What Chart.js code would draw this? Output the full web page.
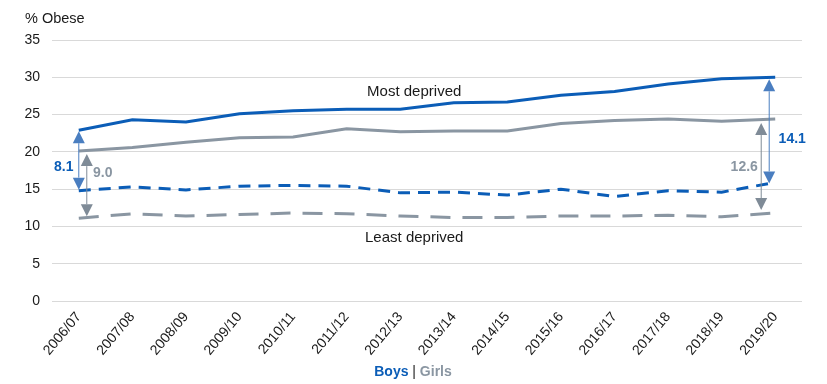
<!DOCTYPE html>
<html>
<head>
<meta charset="utf-8">
<script src="https://cdn.jsdelivr.net/npm/chart.js@4.4.1/dist/chart.umd.min.js"></script>
<style>
  html, body { margin: 0; padding: 0; background: #fff; }
  #wrap { width: 827px; height: 384px; }
</style>
</head>
<body>
<div id="wrap"><canvas id="chart" width="827" height="384"></canvas></div>
<script>
const years = ["2006/07", "2007/08", "2008/09", "2009/10", "2010/11", "2011/12", "2012/13",
  "2013/14", "2014/15", "2015/16", "2016/17", "2017/18", "2018/19", "2019/20"];

// % obese
const boysMost = [22.9, 24.3, 24.0, 25.1, 25.5, 25.7, 25.7, 26.6, 26.7, 27.6, 28.1, 29.1, 29.8, 30.0];
const boysLeast = [14.8, 15.3, 14.9, 15.4, 15.5, 15.4, 14.5, 14.6, 14.2, 15.0, 14.0, 14.8, 14.6, 15.9];
const girlsMost = [20.1, 20.6, 21.3, 21.9, 22.0, 23.1, 22.7, 22.8, 22.8, 23.8, 24.2, 24.4, 24.1, 24.4];
const girlsLeast = [11.1, 11.7, 11.4, 11.6, 11.8, 11.7, 11.4, 11.2, 11.2, 11.4, 11.4, 11.5, 11.3, 11.8];

const yTicks = [0, 5, 10, 15, 20, 25, 30, 35];

const blue = "#0B5DB7";
const grey = "#8A96A2";
const arrowBlue = "#4A7EC0";
const arrowGrey = "#7F8B97";
const font = "'Liberation Sans', Arial, sans-serif";

// draws a double headed arrow between two values at a given x
function drawArrow(ctx, px, yTop, yBot, color) {
  const head = 12, half = 6;
  ctx.save();
  ctx.strokeStyle = color;
  ctx.fillStyle = color;
  ctx.lineWidth = 1;
  ctx.beginPath();
  ctx.moveTo(px, yTop + head);
  ctx.lineTo(px, yBot - head);
  ctx.stroke();
  ctx.beginPath();
  ctx.moveTo(px, yTop);
  ctx.lineTo(px - half, yTop + head);
  ctx.lineTo(px + half, yTop + head);
  ctx.closePath();
  ctx.fill();
  ctx.beginPath();
  ctx.moveTo(px, yBot);
  ctx.lineTo(px - half, yBot - head);
  ctx.lineTo(px + half, yBot - head);
  ctx.closePath();
  ctx.fill();
  ctx.restore();
}

function text(ctx, str, px, py, color, weight, size, align) {
  ctx.save();
  ctx.fillStyle = color;
  ctx.font = weight + " " + size + "px " + font;
  ctx.textAlign = align || "center";
  ctx.textBaseline = "middle";
  ctx.fillText(str, px, py);
  ctx.restore();
}

// arrows, gap labels, captions and the Boys | Girls key
const annotations = {
  id: "annotations",
  afterDatasetsDraw(chart) {
    const { ctx, scales: { x, y } } = chart;
    const first = 0, last = years.length - 1;

    // left side
    const bx0 = x.getPixelForValue(first);
    drawArrow(ctx, bx0, y.getPixelForValue(boysMost[first]) + 1, y.getPixelForValue(boysLeast[first]) - 1, arrowBlue);
    const gx0 = bx0 + 8;
    drawArrow(ctx, gx0, y.getPixelForValue(girlsMost[first]) + 3, y.getPixelForValue(girlsLeast[first]) - 2, arrowGrey);
    const bMid0 = (y.getPixelForValue(boysMost[first]) + y.getPixelForValue(boysLeast[first])) / 2;
    const gMid0 = (y.getPixelForValue(girlsMost[first]) + y.getPixelForValue(girlsLeast[first])) / 2;
    text(ctx, (boysMost[first] - boysLeast[first]).toFixed(1), bx0 - 15, bMid0 + 7, blue, "bold", 14);
    text(ctx, (girlsMost[first] - girlsLeast[first]).toFixed(1), gx0 + 16, gMid0 - 12, grey, "bold", 14);

    // right side
    const bx1 = x.getPixelForValue(last) - 6;
    drawArrow(ctx, bx1, y.getPixelForValue(boysMost[last]) + 2, y.getPixelForValue(boysLeast[last]) + 1, arrowBlue);
    const gx1 = bx1 - 8;
    drawArrow(ctx, gx1, y.getPixelForValue(girlsMost[last]) + 4, y.getPixelForValue(girlsLeast[last]) - 3, arrowGrey);
    const bMid1 = (y.getPixelForValue(boysMost[last]) + y.getPixelForValue(boysLeast[last])) / 2;
    const gMid1 = (y.getPixelForValue(girlsMost[last]) + y.getPixelForValue(girlsLeast[last])) / 2;
    text(ctx, (boysMost[last] - boysLeast[last]).toFixed(1), bx1 + 23, bMid1 + 9, blue, "bold", 14);
    text(ctx, (girlsMost[last] - girlsLeast[last]).toFixed(1), gx1 - 17, gMid1 + 1, grey, "bold", 14);

    // captions
    const cx = x.getPixelForValue(6) + 14;
    text(ctx, "Most deprived", cx, y.getPixelForValue(28.0), "#1a1a1a", "normal", 15);
    text(ctx, "Least deprived", cx, y.getPixelForValue(8.5), "#1a1a1a", "normal", 15);

    // y title
    text(ctx, "% Obese", 25, 19, "#1a1a1a", "normal", 14.5, "left");

    // key
    ctx.save();
    ctx.font = "bold 14px " + font;
    const wBoys = ctx.measureText("Boys").width;
    const wGirls = ctx.measureText("Girls").width;
    ctx.font = "normal 14px " + font;
    const wBar = ctx.measureText(" | ").width;
    ctx.restore();
    const total = wBoys + wBar + wGirls;
    let kx = (x.left + x.right) / 2 - total / 2 - 14;
    const ky = 372;
    text(ctx, "Boys", kx, ky, blue, "bold", 14, "left");
    kx += wBoys;
    text(ctx, " | ", kx, ky, "#1a1a1a", "normal", 14, "left");
    kx += wBar;
    text(ctx, "Girls", kx, ky, grey, "bold", 14, "left");
  }
};

const lineStyle = { borderWidth: 3, pointRadius: 0, tension: 0, fill: false, borderCapStyle: "butt" };

new Chart(document.getElementById("chart"), {
  type: "line",
  plugins: [annotations],
  data: {
    labels: years,
    datasets: [
      { label: "Girls least deprived", data: girlsLeast, borderColor: grey, borderDash: [20, 12], ...lineStyle },
      { label: "Girls most deprived", data: girlsMost, borderColor: grey, ...lineStyle },
      { label: "Boys least deprived", data: boysLeast, borderColor: blue, borderDash: [12, 8], ...lineStyle },
      { label: "Boys most deprived", data: boysMost, borderColor: blue, ...lineStyle },
    ],
  },
  options: {
    responsive: false,
    animation: false,
    layout: { padding: { top: 40, right: 25, left: 0, bottom: 0 } },
    plugins: {
      legend: { display: false },
      tooltip: { enabled: false },
    },
    scales: {
      x: {
        offset: true,
        grid: { display: false, drawTicks: false },
        border: { display: false },
        ticks: {
          color: "#1a1a1a",
          font: { family: font, size: 14 },
          minRotation: 50,
          maxRotation: 50,
          padding: 8,
          autoSkip: false,
        },
        afterFit(scale) { scale.height = 83; },
      },
      y: {
        min: 0,
        max: 35,
        afterBuildTicks(scale) { scale.ticks = yTicks.map(v => ({ value: v })); },
        grid: { color: "#d9d9d9", lineWidth: 1, drawTicks: false },
        border: { display: false },
        ticks: {
          color: "#1a1a1a",
          font: { family: font, size: 14 },
          padding: 12,
        },
        afterFit(scale) { scale.width = 52; },
      },
    },
  },
});
</script>
</body>
</html>
